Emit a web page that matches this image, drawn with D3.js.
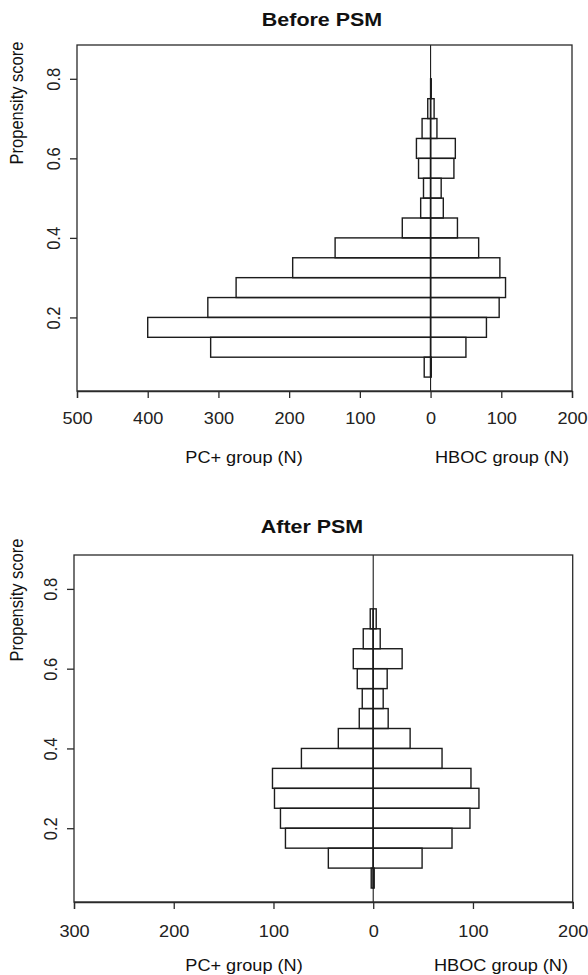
<!DOCTYPE html>
<html>
<head>
<meta charset="utf-8">
<script src="https://cdn.jsdelivr.net/npm/d3@7"></script>
<style>
  body { margin: 0; background: #fff; }
  svg { display: block; font-family: "Liberation Sans", Arial, Helvetica, sans-serif; }
</style>
</head>
<body>
<svg id="chart" width="588" height="975"></svg>
<script>
// Propensity score bins (lower edges), width 0.05
const binStarts = [0.05, 0.10, 0.15, 0.20, 0.25, 0.30, 0.35, 0.40, 0.45, 0.50, 0.55, 0.60, 0.65, 0.70, 0.75];
const binWidth = 0.05;

// Counts per bin before matching
const beforePC   = [9, 311, 400, 315, 275, 195, 135, 40, 14, 10, 17, 20, 12, 4, 0];
const beforeHBOC = [1,  50,  79,  97, 106,  98,  68, 38, 18, 15, 33, 35,  9, 5, 1];

// Counts per bin after matching
const afterPC    = [2, 45, 88, 93,  99, 101, 72, 35, 14, 11, 16, 20, 10, 3, 0];
const afterHBOC  = [1, 49, 79, 97, 106,  98, 69, 37, 15, 10, 14, 29,  7, 3, 0];

// Axis ticks (negative side = PC+ group, shown as absolute counts)
const beforeTicksX = [-500, -400, -300, -200, -100, 0, 100, 200];
const afterTicksX  = [-300, -200, -100, 0, 100, 200];
const scoreTicks   = [0.2, 0.4, 0.6, 0.8];

const titles = ["Before PSM", "After PSM"];
const yLabel = "Propensity score";
const leftGroupLabel = "PC+ group (N)";
const rightGroupLabel = "HBOC group (N)";

const svg = d3.select("#chart");
const INK = "#1c1c1c";
const SX = 1.1; // horizontal text stretch

const panels = [
  { title: titles[0], pc: beforePC, hboc: beforeHBOC, ticks: beforeTicksX,
    xDomain: [-500, 200], left: 77, right: 572, top: 45, bottom: 391,
    titleX: 322, titleY: 26, ylabY: 103, tickY: 424, groupY: 463, pcX: 244, hbocX: 502 },
  { title: titles[1], pc: afterPC, hboc: afterHBOC, ticks: afterTicksX,
    xDomain: [-300, 200], left: 74, right: 572.7, top: 555, bottom: 902,
    titleX: 312, titleY: 533, ylabY: 600, tickY: 937, groupY: 971, pcX: 244, hbocX: 501 }
];

const yDomain = [0.015, 0.885];

panels.forEach(p => {
  const x = d3.scaleLinear().domain(p.xDomain).range([p.left, p.right]);
  const y = d3.scaleLinear().domain(yDomain).range([p.bottom, p.top]);
  const g = svg.append("g");

  // bars: PC+ to the left of zero, HBOC to the right
  const rows = binStarts.map((b, i) => ({ b, pc: p.pc[i], hboc: p.hboc[i] }));
  const barStyle = sel => sel
    .attr("fill", "none").attr("stroke", INK).attr("stroke-width", 1.4);

  g.selectAll("rect.pc").data(rows.filter(d => d.pc > 0)).join("rect")
    .attr("class", "pc")
    .attr("x", d => x(-d.pc)).attr("width", d => x(0) - x(-d.pc))
    .attr("y", d => y(d.b + binWidth)).attr("height", d => y(d.b) - y(d.b + binWidth))
    .call(barStyle);

  g.selectAll("rect.hboc").data(rows.filter(d => d.hboc > 0)).join("rect")
    .attr("class", "hboc")
    .attr("x", x(0)).attr("width", d => x(d.hboc) - x(0))
    .attr("y", d => y(d.b + binWidth)).attr("height", d => y(d.b) - y(d.b + binWidth))
    .call(barStyle);

  // zero line
  g.append("line")
    .attr("x1", x(0)).attr("x2", x(0)).attr("y1", p.top).attr("y2", p.bottom)
    .attr("stroke", INK).attr("stroke-width", 1.1);

  // plot frame
  g.append("rect")
    .attr("x", p.left).attr("y", p.top)
    .attr("width", p.right - p.left).attr("height", p.bottom - p.top)
    .attr("fill", "none").attr("stroke", "#2a2a2a").attr("stroke-width", 1.3);

  // x axis
  const xAxis = g.append("g")
    .attr("transform", `translate(0,${p.bottom})`)
    .call(d3.axisBottom(x).tickValues(p.ticks).tickFormat(v => Math.abs(v))
      .tickSize(7).tickPadding(0));
  xAxis.select(".domain").attr("stroke", "#2a2a2a").attr("stroke-width", 1.3);
  xAxis.selectAll(".tick line").attr("stroke", "#2a2a2a").attr("stroke-width", 1.3);
  xAxis.selectAll(".tick text")
    .attr("y", p.tickY - p.bottom).attr("dy", null)
    .attr("transform", `scale(${SX},1)`)
    .attr("fill", "#222").style("font-size", "16.5px");

  // y axis: rotated tick labels
  const yAxis = g.append("g")
    .attr("transform", `translate(${p.left},0)`)
    .call(d3.axisLeft(y).tickValues(scoreTicks).tickFormat(d3.format(".1f")).tickSize(7));
  yAxis.select(".domain").remove();
  yAxis.selectAll(".tick line").attr("stroke", "#2a2a2a").attr("stroke-width", 1.3);
  yAxis.selectAll(".tick text")
    .attr("x", null).attr("dy", null)
    .attr("text-anchor", "middle")
    .attr("transform", `translate(-17,0) rotate(-90) scale(1,${SX})`)
    .attr("y", 0)
    .attr("fill", "#222").style("font-size", "16.5px");

  // title
  svg.append("text")
    .attr("transform", `translate(${p.titleX},${p.titleY}) scale(1.16,1)`)
    .attr("text-anchor", "middle")
    .style("font-size", "18.5px").style("font-weight", "bold")
    .attr("fill", "#111").text(p.title);

  // y axis label
  svg.append("text")
    .attr("transform", `translate(23,${p.ylabY}) rotate(-90) scale(1,${SX})`)
    .attr("text-anchor", "middle")
    .style("font-size", "16.5px").attr("fill", "#111").text(yLabel);

  // group labels below the x axis
  svg.append("text")
    .attr("transform", `translate(${p.pcX},${p.groupY}) scale(${SX},1)`)
    .attr("text-anchor", "middle")
    .style("font-size", "16.5px").attr("fill", "#111").text(leftGroupLabel);
  svg.append("text")
    .attr("transform", `translate(${p.hbocX},${p.groupY}) scale(${SX},1)`)
    .attr("text-anchor", "middle")
    .style("font-size", "16.5px").attr("fill", "#111").text(rightGroupLabel);
});
</script>
</body>
</html>
